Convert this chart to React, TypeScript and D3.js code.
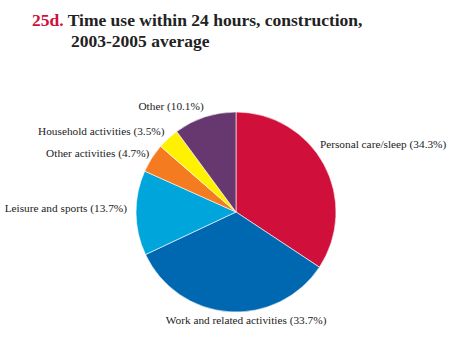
import React from "react";
import * as d3 from "d3";

// slices, clockwise from 12 o'clock
const categories = [
  "Personal care/sleep",
  "Work and related activities",
  "Leisure and sports",
  "Other activities",
  "Household activities",
  "Other",
];
const shares = [34.3, 33.7, 13.7, 4.7, 3.5, 10.1];
const sliceColors = ["#d0103a", "#0067b1", "#00a5dc", "#f47b20", "#fff200", "#67376f"];

// label tweaks (layout only), in px
const labelNudge: [number, number][] = [
  [-13, -16],
  [18, -2],
  [1, -5],
  [6, 0],
  [3, 0],
  [2, -1],
];

const W = 452;
const H = 360;
const cx = 236;
const cy = 212;
const radius = 100;

export default function App() {
  const rows = categories.map((name, i) => ({ name, value: shares[i], color: sliceColors[i] }));

  const pie = d3.pie<any>().value((d) => d.value).sort(null);
  const arcs = pie(rows);

  const arc = d3.arc<any>().innerRadius(0).outerRadius(radius);
  const labelArc = d3.arc<any>().innerRadius(110).outerRadius(110);

  return (
    <svg
      width={W}
      height={H}
      style={{ position: "absolute", left: 0, top: 0, background: "#fff" }}
      fontFamily="'Liberation Serif', 'Times New Roman', serif"
    >
      <text x={32} y={26} fontSize={17.5} fontWeight="bold">
        <tspan fill="#d0103a">25d.</tspan>
        <tspan fill="#222"> Time use within 24 hours, construction,</tspan>
      </text>
      <text x={71} y={47} fontSize={17.5} fontWeight="bold" fill="#222">
        2003-2005 average
      </text>

      <g transform={`translate(${cx},${cy})`}>
        {arcs.map((a, i) => (
          <path key={i} d={arc(a) || ""} fill={a.data.color} stroke="#fff" strokeWidth={0.6} />
        ))}
        {arcs.map((a, i) => {
          const [lx, ly] = labelArc.centroid(a);
          const mid = (a.startAngle + a.endAngle) / 2;
          const s = Math.sin(mid);
          const anchor = Math.abs(s) < 0.2 ? "middle" : s > 0 ? "start" : "end";
          return (
            <text
              key={"l" + i}
              x={lx + labelNudge[i][0]}
              y={ly + labelNudge[i][1]}
              dy="0.35em"
              textAnchor={anchor}
              fontSize={11.3}
              fill="#222"
            >
              {`${a.data.name} (${a.data.value}%)`}
            </text>
          );
        })}
      </g>
    </svg>
  );
}
